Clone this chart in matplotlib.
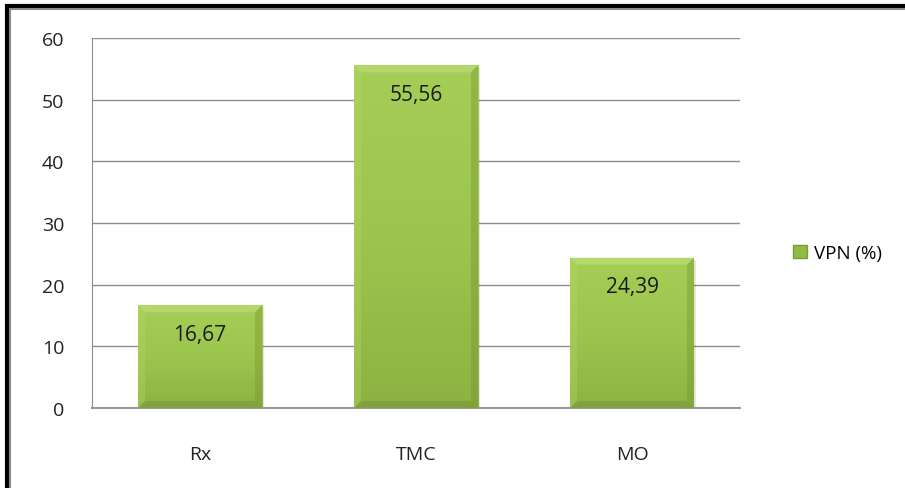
import matplotlib.pyplot as plt
import numpy as np
from matplotlib.colors import LinearSegmentedColormap
from matplotlib.patches import Polygon, Rectangle, Patch

categories = ["Rx", "TMC", "MO"]
values = [16.67, 55.56, 24.39]
value_labels = ["16,67", "55,56", "24,39"]
series_name = "VPN (%)"
yticks = [0, 10, 20, 30, 40, 50, 60]

plt.rcParams["font.family"] = ["Open Sans", "DejaVu Sans"]

W, H = 905, 489
fig = plt.figure(figsize=(W / 100, H / 100), dpi=100)
ax = fig.add_axes([92 / W, 1 - 409 / H, (740 - 92) / W, (409 - 39) / H])

ax.set_xlim(-0.5, len(categories) - 0.5)
ax.set_ylim(0, 60)
ax.set_yticks(yticks)
ax.set_yticklabels([str(t) for t in yticks])
ax.set_xticks(range(len(categories)))
ax.set_xticklabels(categories)
ax.tick_params(axis="y", length=0, pad=20, labelsize=14, colors="#222222")
ax.tick_params(axis="x", length=0, pad=27, labelsize=14, colors="#222222")
ax.yaxis.grid(True, color="#8c8c8c", lw=1.0)
ax.set_axisbelow(True)
for side in ["top", "right"]:
    ax.spines[side].set_visible(False)
ax.spines["left"].set_color("#8c8c8c")
ax.spines["bottom"].set_color("#8c8c8c")
ax.spines["bottom"].set_linewidth(1.3)

bar_w = 124 / 216
cmap = LinearSegmentedColormap.from_list("g", ["#8db243", "#9cc54e", "#a6ce56"])
bars = ax.bar(range(len(values)), values, width=bar_w, color="none", zorder=3)

dx = 7 / 216          # bevel width in data units (x)
dy = 7 * 60 / 370     # bevel width in data units (y)
for b, lab in zip(bars, value_labels):
    x0, x1 = b.get_x(), b.get_x() + b.get_width()
    y0, y1 = 0, b.get_height()
    # soft shadow
    ax.add_patch(Rectangle((x0 + 0.008, y0 - 0.35), x1 - x0, y1, color="#000000",
                           alpha=0.10, zorder=2, lw=0))
    grad = np.linspace(0, 1, 256).reshape(-1, 1)
    im = ax.imshow(grad, extent=(x0, x1, y0, y1), origin="lower", cmap=cmap,
                   aspect="auto", zorder=3)
    im.set_clip_path(b)
    # bevels
    ax.add_patch(Polygon([(x0, y1), (x1, y1), (x1 - dx, y1 - dy), (x0 + dx, y1 - dy)],
                         closed=True, color="#bfe07a", alpha=0.6, lw=0, zorder=4))
    ax.add_patch(Polygon([(x0, y0), (x1, y0), (x1 - dx, y0 + dy), (x0 + dx, y0 + dy)],
                         closed=True, color="#6f9030", alpha=0.45, lw=0, zorder=4))
    ax.add_patch(Polygon([(x0, y0), (x0, y1), (x0 + dx, y1 - dy), (x0 + dx, y0 + dy)],
                         closed=True, color="#b3d866", alpha=0.35, lw=0, zorder=4))
    ax.add_patch(Polygon([(x1, y0), (x1, y1), (x1 - dx, y1 - dy), (x1 - dx, y0 + dy)],
                         closed=True, color="#74952f", alpha=0.4, lw=0, zorder=4))
    ax.text(b.get_x() + b.get_width() / 2, y1 - 29 * 60 / 370, lab,
            ha="center", va="center", fontsize=15, color="#1a1a1a", zorder=5)

ax.set_xlim(-0.5, len(categories) - 0.5)
ax.set_ylim(0, 60)

leg = fig.legend(handles=[Patch(facecolor="#92bb45", edgecolor="#7a9c35", label=series_name)],
                 loc="center left", bbox_to_anchor=(776 / W, 1 - 254 / H), frameon=False,
                 fontsize=13.5, handlelength=0.75, handleheight=0.75, handletextpad=0.4)

# outer frame (top and left edges, as in the cropped screenshot)
fig.add_artist(Rectangle((7 / W, -0.1), 1.2, 1 - 7 / H + 0.1, transform=fig.transFigure,
                         fill=False, edgecolor="#000000", lw=3))
fig.add_artist(Rectangle((10 / W, -0.1), 1.2, 1 - 10 / H + 0.1, transform=fig.transFigure,
                         fill=False, edgecolor="#8a8a8a", lw=1.5))

fig.savefig("out.png", dpi=100)
